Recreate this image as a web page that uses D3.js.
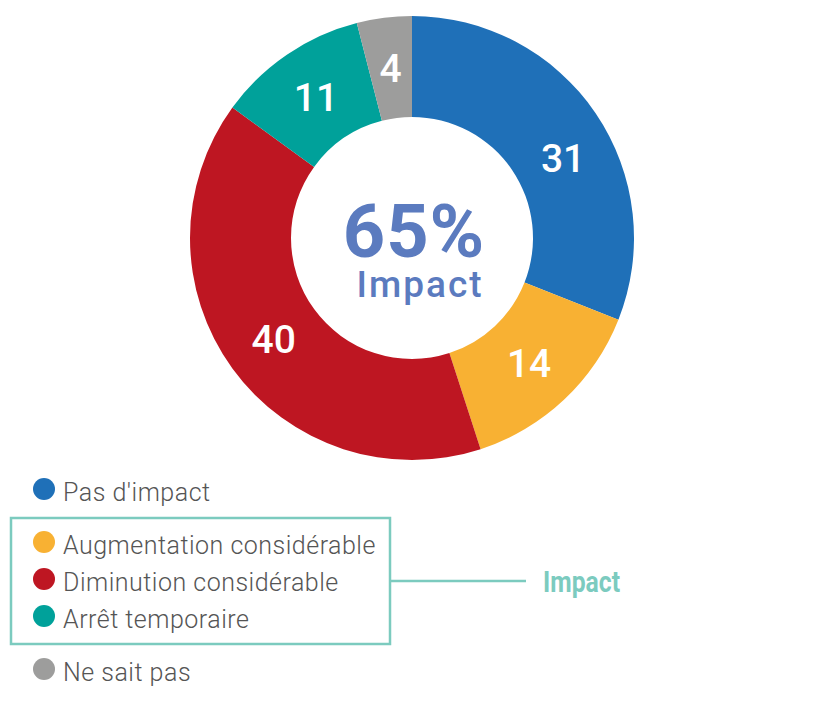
<!DOCTYPE html>
<html>
  <head>
    <meta charset="UTF-8">
    <script src="https://d3js.org/d3.v7.min.js"></script>
    <style>
      body { margin: 0; background: #fff; }
      svg { display: block; }
    </style>
  </head>
  <body>
    <svg id="svg" width="820" height="711"></svg>
    <script>
      // data
      const categories = ["Pas d'impact", "Augmentation considérable", "Diminution considérable", "Arrêt temporaire", "Ne sait pas"];
      const values = [31, 14, 40, 11, 4];
      const colors = ["#1f70b8", "#f8b133", "#be1622", "#00a19a", "#9d9d9c"];
      const impactGroup = [1, 2, 3];   // rows inside the "Impact" box
      const centreValue = "65%";
      const centreLabel = "Impact";

      const svg = d3.select("svg#svg");

      // ---- donut ----
      const cx = 412, cy = 238;
      const outerR = 222, innerR = 121;
      const labelR = 171;

      const pie = d3.pie().sort(null).value(d => d.value);
      const arc = d3.arc().innerRadius(innerR).outerRadius(outerR);

      const data = categories.map((c, i) => ({ name: c, value: values[i], color: colors[i] }));

      // the big first slice has its number pushed a bit further round
      function labelPos(d, i) {
        let a = (d.startAngle + d.endAngle) / 2;
        if (i === 0) a += 0.11;
        return [labelR * Math.sin(a), -labelR * Math.cos(a)];
      }

      const donut = svg.append("g")
        .attr("transform", "translate(" + cx + "," + cy + ")");

      donut.selectAll("path")
        .data(pie(data))
        .enter()
        .append("path")
        .attr("d", arc)
        .attr("fill", d => d.data.color);

      donut.selectAll("text.val")
        .data(pie(data))
        .enter()
        .append("text")
        .attr("class", "val")
        .attr("x", (d, i) => labelPos(d, i)[0])
        .attr("y", (d, i) => labelPos(d, i)[1])
        .attr("dy", "0.36em")
        .attr("text-anchor", "middle")
        .attr("fill", "#fff")
        .attr("font-family", "Roboto")
        .attr("font-weight", 500)
        .style("font-size", "39px")
        .text(d => d.data.value);

      // centre: one text, two lines
      const centre = donut.append("text")
        .attr("text-anchor", "middle")
        .attr("fill", "#5b7bbf")
        .attr("font-family", "Roboto");

      centre.append("tspan")
        .attr("x", 2)
        .attr("y", 19)
        .attr("font-weight", 700)
        .style("font-size", "74px")
        .style("letter-spacing", "1px")
        .text(centreValue);

      centre.append("tspan")
        .attr("x", 8)
        .attr("y", 59)
        .attr("font-weight", 500)
        .style("font-size", "37px")
        .style("letter-spacing", "2px")
        .text(centreLabel);

      // ---- legend ----
      const rowY = [489, 542, 579, 616, 669];
      const legend = svg.append("g");

      legend.selectAll("circle")
        .data(data)
        .enter()
        .append("circle")
        .attr("cx", 44)
        .attr("cy", (d, i) => rowY[i])
        .attr("r", 11)
        .attr("fill", d => d.color);

      legend.selectAll("text")
        .data(data)
        .enter()
        .append("text")
        .attr("x", 63)
        .attr("y", (d, i) => rowY[i] + 12)
        .attr("fill", "#555")
        .attr("font-family", "Roboto")
        .attr("font-weight", 300)
        .style("font-size", "25px")
        .style("letter-spacing", "0.5px")
        .text(d => d.name);

      // box around the impact rows + connector
      const boxTop = 518, boxBottom = 644;
      svg.append("rect")
        .attr("x", 11)
        .attr("y", boxTop)
        .attr("width", 379)
        .attr("height", boxBottom - boxTop)
        .attr("fill", "none")
        .attr("stroke", "#7ccbbf")
        .attr("stroke-width", 2.5);

      const midY = rowY[impactGroup[1]] + 2;
      svg.append("line")
        .attr("x1", 390).attr("x2", 526)
        .attr("y1", midY).attr("y2", midY)
        .attr("stroke", "#7ccbbf")
        .attr("stroke-width", 2.5);

      svg.append("text")
        .attr("x", 543)
        .attr("y", midY + 11)
        .attr("fill", "#7ccbbf")
        .attr("font-family", "Roboto")
        .attr("font-weight", 700)
        .attr("textLength", 77)
        .attr("lengthAdjust", "spacingAndGlyphs")
        .style("font-size", "30px")
        .text("Impact");
    </script>
  </body>
</html>
